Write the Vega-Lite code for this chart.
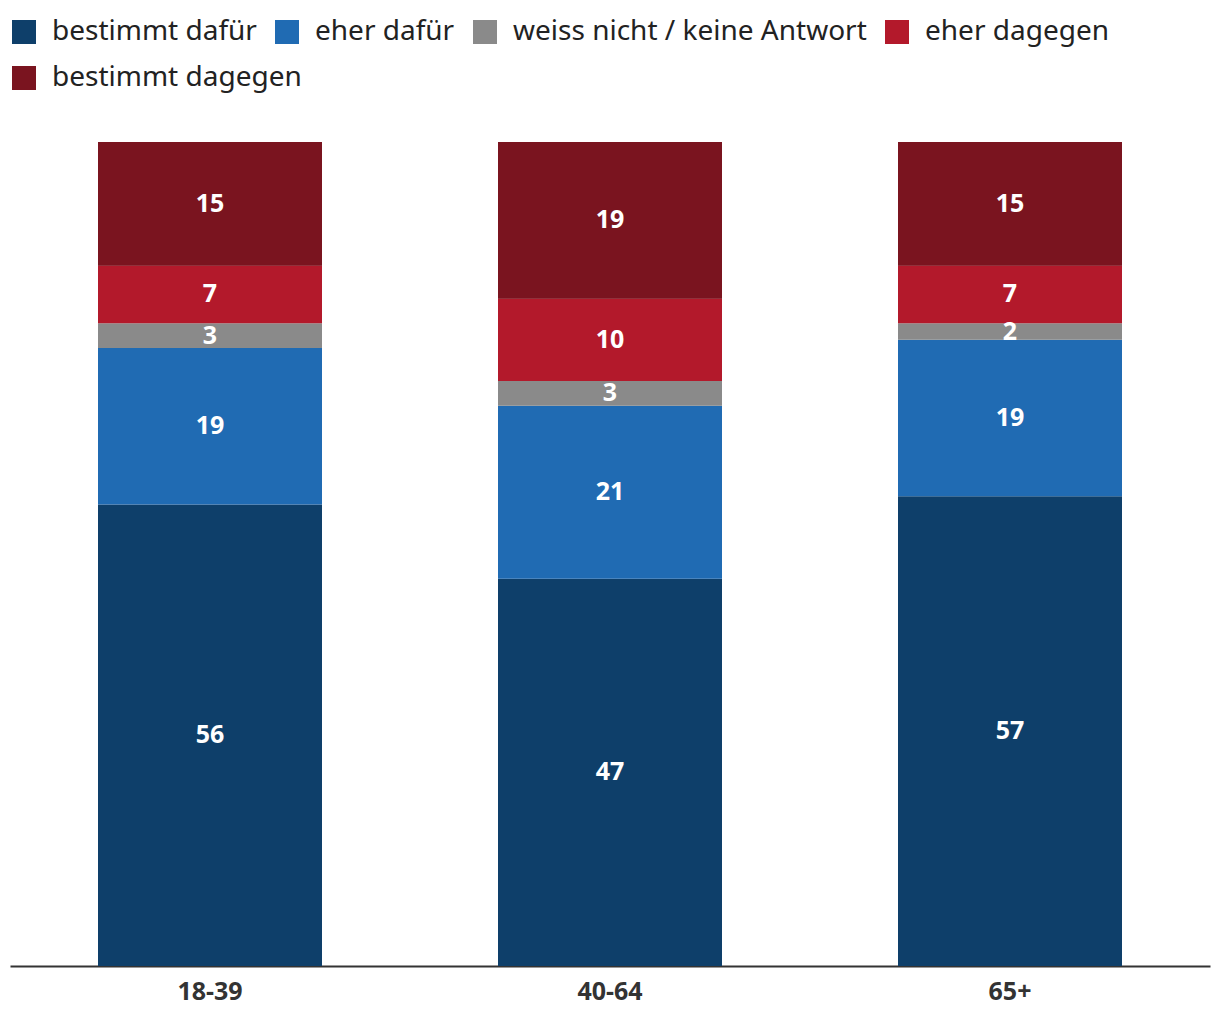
{
  "$schema": "https://vega.github.io/schema/vega-lite/v6.json",
  "autosize": {"type": "none"},
  "width": 1200,
  "height": 824,
  "padding": {"left": 10, "top": 142, "right": 10, "bottom": 54},
  "background": "white",
  "config": {
    "view": {"stroke": null},
    "font": "Noto Sans",
    "legend": {
      "title": null,
      "orient": "none",
      "direction": "horizontal",
      "symbolType": "square",
      "symbolSize": 576,
      "symbolStrokeWidth": 0,
      "labelFont": "Noto Sans",
      "labelFontSize": 28,
      "labelColor": "#222222",
      "labelOffset": 14,
      "columnPadding": 16,
      "labelLimit": 600
    }
  },
  "data": {
    "values": [
      {"age": "18-39", "answer": "bestimmt dafür", "k": 1, "value": 56},
      {"age": "18-39", "answer": "eher dafür", "k": 2, "value": 19},
      {"age": "18-39", "answer": "weiss nicht / keine Antwort", "k": 3, "value": 3},
      {"age": "18-39", "answer": "eher dagegen", "k": 4, "value": 7},
      {"age": "18-39", "answer": "bestimmt dagegen", "k": 5, "value": 15},
      {"age": "40-64", "answer": "bestimmt dafür", "k": 1, "value": 47},
      {"age": "40-64", "answer": "eher dafür", "k": 2, "value": 21},
      {"age": "40-64", "answer": "weiss nicht / keine Antwort", "k": 3, "value": 3},
      {"age": "40-64", "answer": "eher dagegen", "k": 4, "value": 10},
      {"age": "40-64", "answer": "bestimmt dagegen", "k": 5, "value": 19},
      {"age": "65+", "answer": "bestimmt dafür", "k": 1, "value": 57},
      {"age": "65+", "answer": "eher dafür", "k": 2, "value": 19},
      {"age": "65+", "answer": "weiss nicht / keine Antwort", "k": 3, "value": 2},
      {"age": "65+", "answer": "eher dagegen", "k": 4, "value": 7},
      {"age": "65+", "answer": "bestimmt dagegen", "k": 5, "value": 15}
    ]
  },
  "transform": [
    {"stack": "value", "groupby": ["age"], "sort": [{"field": "k", "order": "ascending"}], "as": ["y0", "y1"]},
    {"calculate": "(datum.y0 + datum.y1) / 2", "as": "ymid"}
  ],
  "encoding": {
    "x": {
      "field": "age",
      "type": "nominal",
      "sort": ["18-39", "40-64", "65+"],
      "scale": {"paddingInner": 0.44, "paddingOuter": 0.22},
      "axis": {
        "title": null,
        "ticks": false,
        "domainColor": "#333333",
        "domainWidth": 2,
        "labelFont": "Noto Sans",
        "labelFontSize": 25,
        "labelFontWeight": "bold",
        "labelColor": "#333333",
        "labelPadding": 13,
        "labelAngle": 0
      }
    }
  },
  "layer": [
    {
      "mark": {"type": "bar"},
      "encoding": {
        "y": {"field": "y0", "type": "quantitative", "scale": {"domain": [0, 100]}, "axis": null},
        "y2": {"field": "y1"},
        "color": {
          "field": "answer",
          "type": "nominal",
          "scale": {
            "domain": ["bestimmt dafür", "eher dafür", "weiss nicht / keine Antwort", "eher dagegen", "bestimmt dagegen"],
            "range": ["#0e3f6a", "#206bb3", "#8a8a8a", "#b3192b", "#7a141f"]
          },
          "legend": {
            "values": ["bestimmt dafür", "eher dafür", "weiss nicht / keine Antwort", "eher dagegen"],
            "legendX": 0,
            "legendY": -124
          }
        }
      }
    },
    {
      "transform": [{"filter": "datum.answer === 'bestimmt dagegen'"}],
      "mark": {"type": "bar"},
      "encoding": {
        "y": {"field": "y0", "type": "quantitative", "scale": {"domain": [0, 100]}},
        "y2": {"field": "y1"},
        "color": {
          "field": "answer",
          "type": "nominal",
          "scale": {
            "domain": ["bestimmt dagegen"],
            "range": ["#7a141f"]
          },
          "legend": {
            "legendX": 0,
            "legendY": -78
          }
        }
      }
    },
    {
      "mark": {"type": "text", "color": "white", "fontSize": 25, "fontWeight": "bold", "baseline": "middle", "font": "Noto Sans"},
      "encoding": {
        "y": {"field": "ymid", "type": "quantitative", "scale": {"domain": [0, 100]}},
        "text": {"field": "value", "type": "quantitative"}
      }
    }
  ],
  "resolve": {"scale": {"color": "independent"}, "legend": {"color": "independent"}}
}
